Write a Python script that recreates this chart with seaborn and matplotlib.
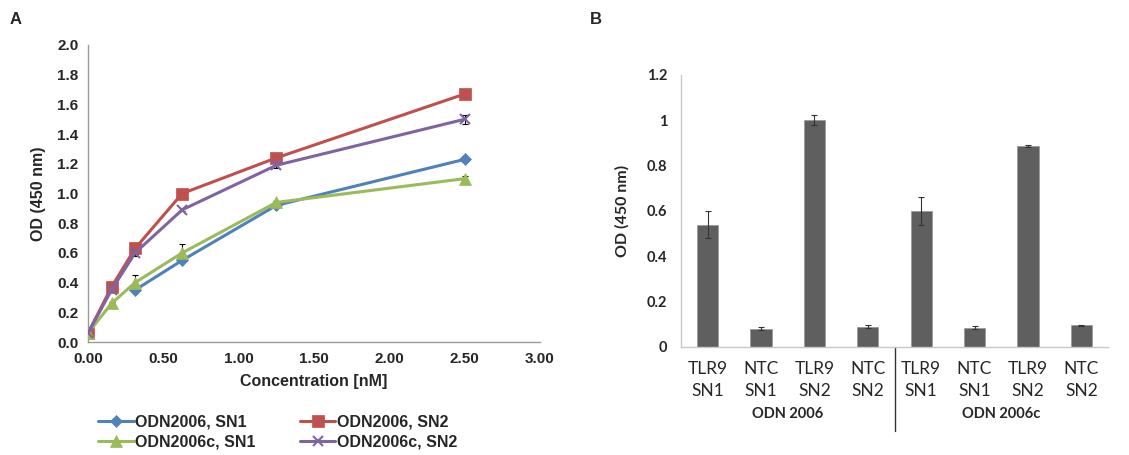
import numpy as np
import pandas as pd
import matplotlib
matplotlib.use("Agg")
import matplotlib.pyplot as plt
import seaborn as sns

# ---------------- data ----------------
conc = [0.0, 0.156, 0.3125, 0.625, 1.25, 2.5]
series_names = ["ODN2006, SN1", "ODN2006, SN2", "ODN2006c, SN1", "ODN2006c, SN2"]
od_2006_sn1 = [np.nan, np.nan, 0.35, 0.55, 0.92, 1.23]
od_2006_sn2 = [0.06, 0.37, 0.63, 1.00, 1.24, 1.67]
od_2006c_sn1 = [0.06, 0.26, 0.40, 0.60, 0.94, 1.10]
od_2006c_sn2 = [0.06, 0.35, 0.60, 0.89, 1.19, 1.50]
err_2006_sn1 = [0, 0, 0.01, 0.01, 0.01, 0.01]
err_2006_sn2 = [0.01, 0.01, 0.04, 0.01, 0.03, 0.01]
err_2006c_sn1 = [0.01, 0.01, 0.05, 0.06, 0.01, 0.02]
err_2006c_sn2 = [0.01, 0.01, 0.02, 0.01, 0.02, 0.03]

bar_labels = ["TLR9\nSN1", "NTC\nSN1", "TLR9\nSN2", "NTC\nSN2",
              "TLR9\nSN1", "NTC\nSN1", "TLR9\nSN2", "NTC\nSN2"]
bar_values = [0.54, 0.08, 1.00, 0.09, 0.60, 0.085, 0.887, 0.095]
bar_errors = [0.06, 0.007, 0.022, 0.007, 0.06, 0.007, 0.006, 0.002]
group_labels = ["ODN 2006", "ODN 2006c"]

# ---------------- style ----------------
sns.set_theme(style="white")
plt.rcParams["font.family"] = ["Liberation Sans", "DejaVu Sans"]

colors = {"ODN2006, SN1": "#4F81BD", "ODN2006, SN2": "#C0504D",
          "ODN2006c, SN1": "#9BBB59", "ODN2006c, SN2": "#8064A2"}
markers = {"ODN2006, SN1": "D", "ODN2006, SN2": "s",
           "ODN2006c, SN1": "^", "ODN2006c, SN2": "x"}
msizes = {"ODN2006, SN1": 6, "ODN2006, SN2": 8,
          "ODN2006c, SN1": 8, "ODN2006c, SN2": 7}

vals = [od_2006_sn1, od_2006_sn2, od_2006c_sn1, od_2006c_sn2]
errs = [err_2006_sn1, err_2006_sn2, err_2006c_sn1, err_2006c_sn2]
rows = []
for name, v, e in zip(series_names, vals, errs):
    for c, y, ee in zip(conc, v, e):
        rows.append({"conc": c, "od": y, "err": ee, "series": name})
df = pd.DataFrame(rows)

fig = plt.figure(figsize=(11.29, 4.55), dpi=100)

# ---------------- Panel A ----------------
axA = fig.add_axes([88 / 1129, 1 - 342 / 455, (540 - 88) / 1129, (342 - 45) / 455])
for name in series_names:
    sub = df[df.series == name].dropna(subset=["od"])
    axA.errorbar(sub.conc, sub.od, yerr=sub.err, fmt="none", ecolor="black",
                 elinewidth=0.8, capsize=2.5, capthick=0.8, zorder=3)
    sns.lineplot(data=sub, x="conc", y="od", ax=axA, color=colors[name],
                 marker=markers[name], markersize=msizes[name],
                 markeredgecolor=colors[name], markeredgewidth=1.5 if name.endswith("c, SN2") else 0.5,
                 linewidth=2.2, label=name, zorder=4, legend=False)

axA.set_xlim(0, 3.0)
axA.set_ylim(0, 2.0)
axA.set_xticks(np.arange(0, 3.01, 0.5))
axA.set_xticklabels([f"{t:.2f}" for t in np.arange(0, 3.01, 0.5)])
axA.set_yticks(np.arange(0, 2.01, 0.2))
axA.set_yticklabels([f"{t:.1f}" for t in np.arange(0, 2.01, 0.2)])
for sp in ["top", "right"]:
    axA.spines[sp].set_visible(False)
for sp in ["left", "bottom"]:
    axA.spines[sp].set_color("#9a9a9a")
    axA.spines[sp].set_linewidth(1.0)
axA.tick_params(axis="both", which="major", direction="out", length=4, width=1,
                color="#9a9a9a", labelsize=11, pad=3)
for lab in axA.get_xticklabels() + axA.get_yticklabels():
    lab.set_fontweight("bold")
axA.set_xlabel("Concentration [nM]", fontsize=11.5, fontweight="bold", labelpad=6)
axA.set_ylabel("OD (450 nm)", fontsize=11.5, fontweight="bold", labelpad=8)

handles, labels = axA.get_legend_handles_labels()
order = [0, 2, 1, 3]
fig.legend([handles[i] for i in order], [labels[i] for i in order],
           loc="upper left", bbox_to_anchor=(84 / 1129, 1 - 400 / 455), ncol=2,
           frameon=False, prop={"weight": "bold", "size": 11.5},
           handlelength=2.2, handletextpad=0.1, columnspacing=2.8, labelspacing=0.3)

# ---------------- Panel B ----------------
axB = fig.add_axes([681 / 1129, 1 - 347 / 455, (1108 - 681) / 1129, (347 - 75) / 455])
dfb = pd.DataFrame({"pos": [str(i) for i in range(len(bar_values))],
                    "od": bar_values})
sns.barplot(data=dfb, x="pos", y="od", ax=axB, color="#5f5f5f", width=0.4,
            edgecolor="#9a9a9a", linewidth=0.6, saturation=1, errorbar=None)
axB.errorbar(np.arange(len(bar_values)), bar_values, yerr=bar_errors, fmt="none",
             ecolor="#333333", elinewidth=0.8, capsize=2.5, capthick=0.8)
axB.set_xlim(-0.5, len(bar_values) - 0.5)
axB.set_ylim(0, 1.2)
axB.set_yticks([0, 0.2, 0.4, 0.6, 0.8, 1.0, 1.2])
axB.set_yticklabels(["0", "0.2", "0.4", "0.6", "0.8", "1", "1.2"])
axB.set_xticks(np.arange(len(bar_values)))
axB.set_xticklabels(bar_labels)
for sp in ["top", "right"]:
    axB.spines[sp].set_visible(False)
for sp in ["left", "bottom"]:
    axB.spines[sp].set_color("#c8c8c8")
    axB.spines[sp].set_linewidth(1.0)
axB.tick_params(axis="y", length=0, pad=10)
axB.tick_params(axis="x", length=0, pad=10)
for lab in axB.get_yticklabels():
    lab.set_fontweight("bold")
    lab.set_fontsize(10.5)
    lab.set_family(["Lato", "DejaVu Sans"])
for lab in axB.get_xticklabels():
    lab.set_fontsize(12.5)
    lab.set_family(["Lato", "DejaVu Sans"])
    lab.set_linespacing(1.45)
axB.set_xlabel("")
axB.set_ylabel("OD (450 nm)", fontsize=11.5, fontweight="bold", labelpad=12,
               family=["Lato", "DejaVu Sans"])

# group labels and divider
trans = axB.get_xaxis_transform()
axB.text(1.5, -0.245, group_labels[0], transform=trans, ha="center", va="center",
         fontsize=10.5, fontweight="bold", family=["Lato", "DejaVu Sans"])
axB.text(5.5, -0.245, group_labels[1], transform=trans, ha="center", va="center",
         fontsize=10.5, fontweight="bold", family=["Lato", "DejaVu Sans"])
axB.plot([3.5, 3.5], [0, -0.31], transform=trans, color="#333333", lw=1.0,
         clip_on=False)

# panel letters
fig.text(10 / 1129, 1 - 20 / 455, "A", fontsize=12, fontweight="bold", va="center")
fig.text(590 / 1129, 1 - 20 / 455, "B", fontsize=12, fontweight="bold", va="center")

fig.savefig("out.png", dpi=100)
